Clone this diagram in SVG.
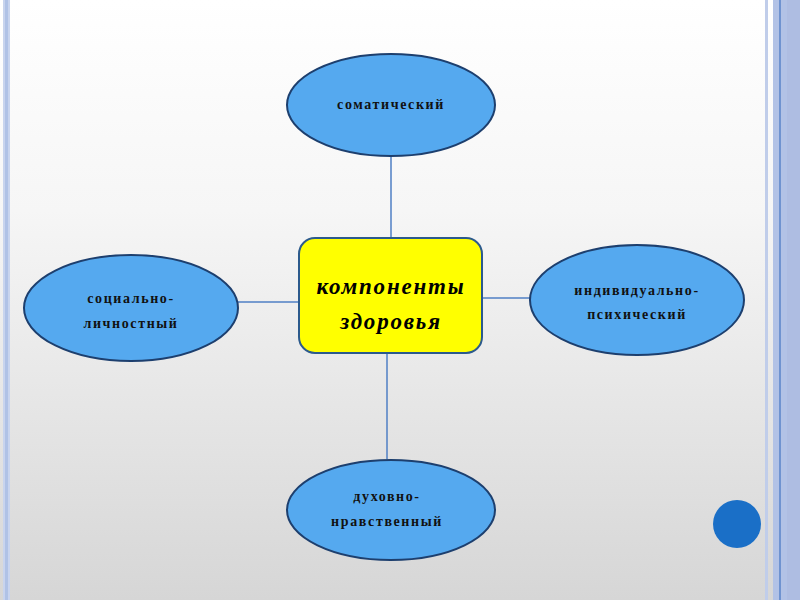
<svg xmlns="http://www.w3.org/2000/svg" width="800" height="600" viewBox="0 0 800 600">
<defs>
<linearGradient id="bg" x1="0" y1="0" x2="0" y2="1">
<stop offset="0" stop-color="#ffffff"/>
<stop offset="0.35" stop-color="#f6f6f6"/>
<stop offset="1" stop-color="#d6d6d6"/>
</linearGradient>
<style>
.ell{fill:#55a9ef;stroke:#1d3f6e;stroke-width:2}
.lbl{font-family:"Liberation Serif","DejaVu Serif",serif;font-weight:bold;font-size:14px;fill:#111;text-anchor:middle;letter-spacing:1.6px}
.ctr{font-family:"Liberation Serif","DejaVu Serif",serif;font-weight:bold;font-style:italic;font-size:23px;fill:#000;text-anchor:middle;letter-spacing:1.8px}
.con{stroke:#4f7fc4;stroke-width:1.5;fill:none}
</style>
</defs>
<rect width="800" height="600" fill="url(#bg)"/>
<rect x="3" y="0" width="7" height="600" fill="#c8d4ee"/>
<rect x="5" y="0" width="3" height="600" fill="#b0c2e6"/>
<rect x="765" y="0" width="3" height="600" fill="#c0cdea"/>
<rect x="773" y="0" width="27" height="600" fill="#b2c2e6"/>
<rect x="779" y="0" width="2" height="600" fill="#6f93d0"/>
<rect x="787" y="0" width="13" height="600" fill="#aebde2"/>
<g id="connectors">
<line class="con" x1="391" y1="157" x2="391" y2="238"/>
<line class="con" x1="387" y1="353" x2="387" y2="459"/>
<line class="con" x1="238" y1="302" x2="299" y2="302"/>
<line class="con" x1="482" y1="298" x2="531" y2="298"/>
</g>
<g id="center">
<rect x="299" y="238" width="183" height="115" rx="16" ry="16" fill="#ffff00" stroke="#2c5a8c" stroke-width="2"/>
<text class="ctr" x="391" y="294">компоненты</text>
<text class="ctr" x="391" y="329">здоровья</text>
</g>
<g id="top">
<ellipse class="ell" cx="391" cy="105" rx="104" ry="51"/>
<text class="lbl" x="391" y="109">соматический</text>
</g>
<g id="left">
<ellipse class="ell" cx="131" cy="308" rx="107" ry="53"/>
<text class="lbl" x="131" y="303">социально-</text>
<text class="lbl" x="131" y="328">личностный</text>
</g>
<g id="right">
<ellipse class="ell" cx="637" cy="300" rx="107" ry="55"/>
<text class="lbl" x="637" y="295">индивидуально-</text>
<text class="lbl" x="637" y="319">психический</text>
</g>
<g id="bottom">
<ellipse class="ell" cx="391" cy="510" rx="104" ry="50"/>
<text class="lbl" x="387" y="501">духовно-</text>
<text class="lbl" x="387" y="526">нравственный</text>
</g>
<circle cx="737" cy="524" r="24" fill="#1a6fc7"/>
</svg>
